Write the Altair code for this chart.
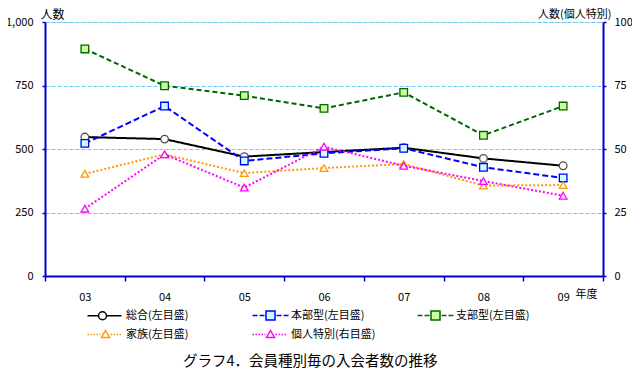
import altair as alt
import pandas as pd

# ---- data ----
years = ["03", "04", "05", "06", "07", "08", "09"]
sogo = [547, 539, 470, 488, 505, 463, 434]          # 総合 (left axis)
honbu = [522, 669, 453, 483, 503, 428, 386]         # 本部型 (left axis)
shibu = [894, 749, 710, 660, 723, 554, 669]         # 支部型 (left axis)
kazoku = [402, 479, 405, 425, 441, 356, 358]        # 家族 (left axis)
kojin = [26.5, 47.9, 34.8, 50.9, 43.4, 37.4, 31.6]  # 個人特別 (right axis)

labels = ["総合(左目盛)", "本部型(左目盛)", "支部型(左目盛)", "家族(左目盛)", "個人特別(右目盛)"]
left_ticks = [0, 250, 500, 750, 1000]
right_ticks = [0, 25, 50, 75, 100]

# ---- styles ----
FONT = "Noto Sans CJK JP"
AXIS_BLUE = "#0000CC"
line_colors = ["#000000", "#0000FF", "#006600", "#FF9900", "#FF00FF"]
line_dash = [[1, 0], [6, 3], [5, 3], [2, 2], [2, 2]]
marker_shapes = ["circle", "square", "square", "triangle-up", "triangle-up"]
marker_fill = ["#FFFFFF", "#CCFFFF", "#CCFF99", "#FFFFFF", "#FFFFFF"]
marker_stroke = ["#505050", "#0000FF", "#006600", "#FF9900", "#FF00FF"]


def segs(x0, x1, dash, gap):
    out = []
    x = x0
    while x < x1 - 0.01:
        e = min(x + dash, x1)
        out.append(f"M{x:.2f},0 H{e:.2f}")
        x = e + gap
    return " ".join(out)


def circle(cx, r):
    return (f"M{cx + r},0 A{r},{r} 0 1,1 {cx - r},0 "
            f"A{r},{r} 0 1,1 {cx + r},0 Z")


def square(cx, h):
    return f"M{cx - h},{-h} H{cx + h} V{h} H{cx - h} Z"


def tri(cx, h):
    return f"M{cx},{-h} L{cx + h},{h - 1} L{cx - h},{h - 1} Z"


legend_paths = [
    segs(0, 11, 20, 0) + " " + segs(19, 34, 20, 0) + " " + circle(15, 4),
    segs(0, 12, 5, 2) + " " + segs(24, 36, 5, 2) + " " + square(18, 4.5),
    segs(0, 12, 5, 2) + " " + segs(24, 36, 5, 2) + " " + square(18, 4.5),
    segs(0, 13, 1.5, 1.5) + " " + segs(23, 35, 1.5, 1.5) + " " + tri(18, 4),
    segs(0, 13, 1.5, 1.5) + " " + segs(23, 35, 1.5, 1.5) + " " + tri(18, 4),
]

x_enc = alt.X(
    "year:N",
    sort=years,
    bandPosition=0.5,
    scale=alt.Scale(type="band", domain=years, paddingInner=0, paddingOuter=0),
    axis=alt.Axis(
        title="年度", tickBand="extent", labelAngle=0, labelPadding=10,
        tickSize=5, tickColor=AXIS_BLUE, tickWidth=1.5,
        domainColor=AXIS_BLUE, domainWidth=2, grid=False,
        labelFont=FONT, labelFontSize=11, labelColor="#000000",
        titleFont=FONT, titleFontSize=11, titleFontWeight="normal",
        titleX=530, titleY=18, titleAlign="left", titleBaseline="middle",
        titleAnchor="start",
    ),
)

left_axis = alt.Axis(
    title="人数", values=left_ticks, format=",.0f", orient="left",
    grid=True, gridColor="#66CCFF", gridDash=[4, 2], gridWidth=1,
    domainColor=AXIS_BLUE, domainWidth=2, tickColor=AXIS_BLUE, tickSize=3,
    tickWidth=1.5, labelPadding=9, labelFont=FONT, labelFontSize=11,
    labelColor="#000000", titleFont=FONT, titleFontSize=12,
    titleFontWeight="normal", titleAngle=0, titleX=-5, titleY=-8,
    titleAlign="left", titleBaseline="middle",
)
right_axis = alt.Axis(
    title="人数(個人特別)", values=right_ticks, format=".0f", orient="right",
    grid=False, domainColor=AXIS_BLUE, domainWidth=2, tickColor=AXIS_BLUE,
    tickSize=3, tickWidth=1.5, labelPadding=8, labelFont=FONT,
    labelFontSize=11, labelColor="#000000", titleFont=FONT, titleFontSize=11,
    titleFontWeight="normal", titleAngle=0, titleX=8, titleY=-8,
    titleAlign="right", titleBaseline="middle",
)
left_scale = alt.Scale(domain=[0, 1000], nice=False, zero=True)
right_scale = alt.Scale(domain=[0, 100], nice=False, zero=True)

all_values = [sogo, honbu, shibu, kazoku, kojin]


def series_layers(i, axis, scale):
    df = pd.DataFrame({"year": years, "v": all_values[i]})
    y_enc = alt.Y("v:Q", scale=scale, axis=axis)
    line = alt.Chart(df).mark_line(
        color=line_colors[i], strokeWidth=2, strokeDash=line_dash[i]
    ).encode(x=x_enc, y=y_enc)
    pts = alt.Chart(df).mark_point(
        shape=marker_shapes[i], filled=True, fill=marker_fill[i],
        stroke=marker_stroke[i], strokeWidth=1.3, size=58, opacity=1
    ).encode(x=x_enc, y=y_enc)
    return [line, pts]


leg = alt.Legend(
    title=None, orient="none", direction="horizontal", legendX=37, legendY=288,
    columns=3, columnPadding=36, rowPadding=4, gridAlign="all", symbolSize=4,
    symbolStrokeWidth=1.5, labelOffset=33, labelFont=FONT, labelFontSize=11,
    labelColor="#000000", symbolOpacity=1,
)
legend_df = pd.DataFrame({"lg": labels})
legend_layer = alt.Chart(legend_df).mark_point(
    filled=True, opacity=1, strokeWidth=1.5
).encode(
    shape=alt.Shape("lg:N", sort=labels,
                    scale=alt.Scale(domain=labels, range=legend_paths), legend=leg),
    fill=alt.Fill("lg:N", sort=labels,
                  scale=alt.Scale(domain=labels, range=marker_fill), legend=leg),
    stroke=alt.Stroke("lg:N", sort=labels,
                      scale=alt.Scale(domain=labels, range=line_colors), legend=leg),
).transform_filter("false")

left_layers = []
for i in [0, 1, 2, 3]:
    left_layers += series_layers(i, left_axis, left_scale)
left_layers.append(legend_layer)
right_layers = series_layers(4, right_axis, right_scale)

chart = alt.layer(
    alt.layer(*left_layers), alt.layer(*right_layers)
).resolve_scale(y="independent").properties(
    width=558, height=254,
    padding={"left": 37, "top": 14, "right": 29, "bottom": 99},
    autosize=alt.AutoSizeParams(type="none"),
    title=alt.TitleParams(
        "グラフ4．会員種別毎の入会者数の推移", orient="bottom", anchor="start",
        frame="group", dx=138, offset=14, font=FONT, fontSize=14.5,
        fontWeight="normal", color="#000000", baseline="top",
    ),
).configure_view(stroke=None).configure(background="#FFFFFF")

chart.save("out.html", embed_options={"renderer": "svg", "actions": False})
